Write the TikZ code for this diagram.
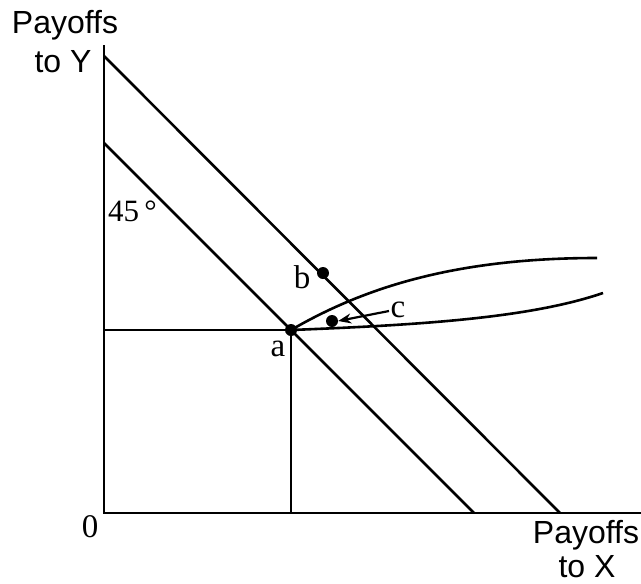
\documentclass[tikz,border=0pt]{standalone}
\usepackage{fontspec}
\setmainfont{Liberation Serif}
\newfontfamily\axisfont{Liberation Sans}
\usetikzlibrary{arrows.meta}
\begin{document}
\begin{tikzpicture}[x=1pt,y=-1pt,
  ln/.style={line width=2.6pt},
  dotnode/.style={circle,fill=black,inner sep=0pt,minimum size=12pt},
  axlabel/.style={font=\axisfont\fontsize{32}{38}\selectfont,inner sep=0pt,anchor=base},
  ptlabel/.style={font=\fontsize{33}{38}\selectfont,inner sep=0pt,anchor=base}]
\useasboundingbox (0,0) rectangle (641,584);
% coordinates
\coordinate (O) at (104,513);
\coordinate (ytop) at (104,45);
\coordinate (xend) at (641,513);
\coordinate (outerTop) at (104,56);
\coordinate (outerBot) at (560,513);
\coordinate (innerTop) at (104,143);
\coordinate (innerBot) at (474,513);
\coordinate (aY) at (104,330);
\coordinate (aX) at (291,513);
\coordinate (upEnd) at (597,258);
\coordinate (lowEnd) at (603,293);
\coordinate (arrStart) at (389,311);
% axes
\draw[ln] (ytop) -- (O) -- (xend);
% diagonals
\draw[ln] (outerTop) -- (outerBot);
\draw[ln] (innerTop) -- (innerBot);
% dots
\node[dotnode] (a) at (291,330) {};
\node[dotnode] (b) at (323,273) {};
\node[dotnode] (c) at (332,321) {};
% guide lines to a
\draw[ln] (aY) -- (a.center) -- (aX);
% curves
\draw[ln] (a.center) .. controls (360,290) and (450,258) .. (upEnd);
\draw[ln] (a.center) .. controls (420,325) and (530,318) .. (lowEnd);
% arrow
\draw[line width=2.2pt,-{Stealth[length=13pt,width=10pt]}] (arrStart) -- (c.east);
% labels
\node[axlabel] (py1) at (65,33) {Payoffs};
\node[axlabel] (py2) at (63,72) {to Y};
\node[axlabel] (px1) at (586,543) {Payoffs};
\node[axlabel] (px2) at (587,577) {to X};
\node[ptlabel,font=\fontsize{33}{38}\selectfont] (zero) at (90,537) {0};
\node[ptlabel,anchor=base west,font=\fontsize{31}{36}\selectfont] (deg) at (108,221) {45\,°};
\node[ptlabel] (la) at (278,356) {a};
\node[ptlabel] (lb) at (302,288) {b};
\node[ptlabel] (lc) at (398,317) {c};
\end{tikzpicture}
\end{document}
